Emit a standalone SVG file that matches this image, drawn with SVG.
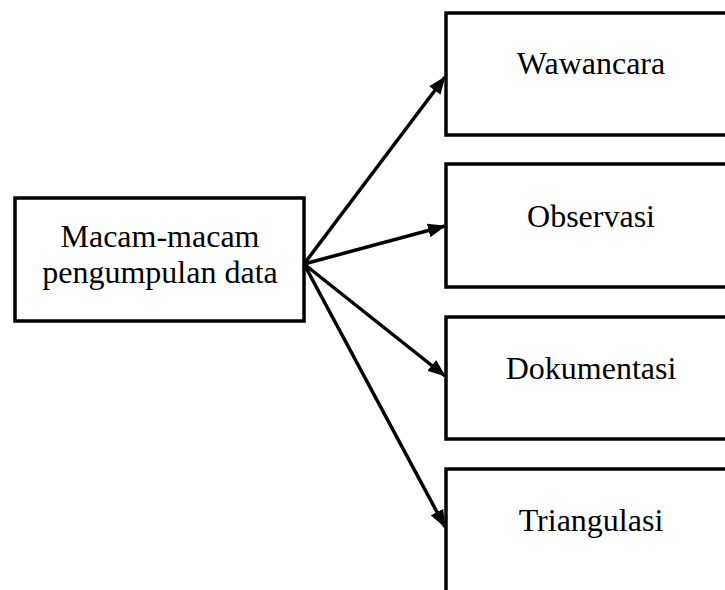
<svg xmlns="http://www.w3.org/2000/svg" width="725" height="590" viewBox="0 0 725 590">
<style>
.box{fill:#fff;stroke:#000;stroke-width:3.5}
.t{font-family:"Liberation Serif","Times New Roman",serif;font-size:32px;fill:#000;text-anchor:middle}
.c{stroke:#000;stroke-width:3.5;fill:none;marker-end:url(#ah)}
</style>
<defs>
<marker id="ah" markerUnits="userSpaceOnUse" viewBox="0 0 18 14" refX="17" refY="7" markerWidth="18" markerHeight="14" orient="auto">
<path d="M0,0 L18,7 L0,14 z" fill="#000"/>
</marker>
</defs>
<rect width="725" height="590" fill="#fff"/>
<g id="n-main">
<rect class="box" x="15" y="198" width="289" height="123"/>
<text class="t" x="160" y="247">Macam-macam</text>
<text class="t" x="160" y="283">pengumpulan data</text>
</g>
<g id="n-wawancara">
<rect class="box" x="446" y="13" width="290" height="122"/>
<text class="t" x="591" y="74">Wawancara</text>
</g>
<g id="n-observasi">
<rect class="box" x="446" y="164" width="290" height="123"/>
<text class="t" x="591" y="227">Observasi</text>
</g>
<g id="n-dokumentasi">
<rect class="box" x="446" y="317" width="290" height="122"/>
<text class="t" x="591" y="379">Dokumentasi</text>
</g>
<g id="n-triangulasi">
<rect class="box" x="446" y="469" width="290" height="140"/>
<text class="t" x="591" y="531">Triangulasi</text>
</g>
<g id="connectors">
<line class="c" x1="304" y1="264" x2="445" y2="77"/>
<line class="c" x1="304" y1="264" x2="445" y2="226"/>
<line class="c" x1="304" y1="264" x2="445" y2="376"/>
<line class="c" x1="304" y1="264" x2="445" y2="527"/>
</g>
</svg>
